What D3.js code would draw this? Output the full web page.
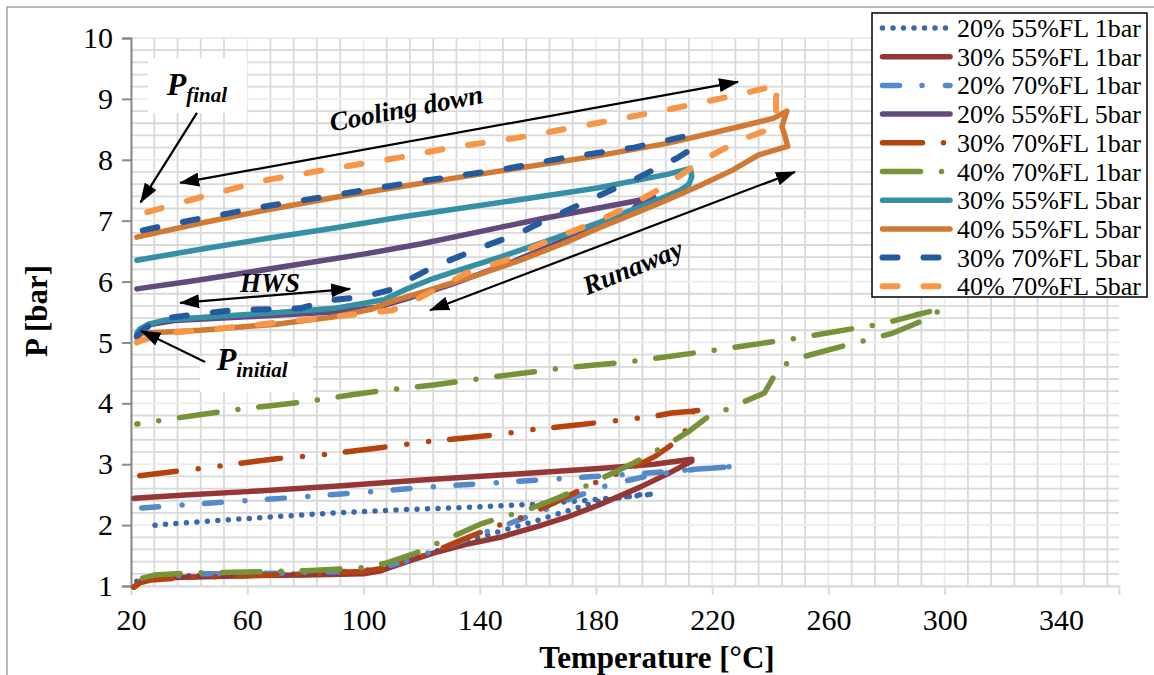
<!DOCTYPE html>
<html><head><meta charset="utf-8">
<script src="https://cdn.jsdelivr.net/npm/d3@7"></script>
<style>
html,body{margin:0;padding:0;background:#fff;}
svg{display:block;}
text{font-family:"Liberation Serif","Times New Roman",serif;}
</style></head>
<body>
<svg id="chart" width="1154" height="675"></svg>
<script>
// ---------- data ----------
const seriesNames = ["20% 55%FL 1bar","30% 55%FL 1bar","20% 70%FL 1bar","20% 55%FL 5bar","30% 70%FL 1bar",
  "40% 70%FL 1bar","30% 55%FL 5bar","40% 55%FL 5bar","30% 70%FL 5bar","40% 70%FL 5bar"];

const s20_55_1 = [[22,1.08],[26,1.14],[40,1.17],[60,1.18],[80,1.2],[100,1.24],[106,1.28],[120,1.5],[140,1.8],[160,2.08],[180,2.38],[195,2.5],[200,2.51],
  [180,2.42],[158,2.34],[135,2.29],[112,2.25],[90,2.2],[67,2.13],[45,2.06],[33,2.02],[27,1.99]];
const s30_55_1 = [[21,0.98],[23,1.06],[26,1.11],[35,1.14],[60,1.17],[80,1.18],[100,1.2],[106,1.25],[115,1.4],[124,1.54],[135,1.68],[147,1.8],[160,1.98],[170,2.13],[181,2.33],[195,2.62],[205,2.85],[213,3.05],
  [213,3.08],[200,3.0],[181,2.93],[150,2.83],[120,2.74],[90,2.64],[60,2.55],[40,2.5],[21,2.44]];
const s20_70_1 = [[23,1.08],[30,1.15],[45,1.2],[70,1.21],[95,1.24],[105,1.28],[115,1.42],[124,1.57],[135,1.76],[147,1.97],[160,2.2],[172,2.45],[185,2.67],[200,2.83],[215,2.92],[229,2.97],
  [210,2.9],[190,2.83],[170,2.77],[150,2.71],[124,2.63],[100,2.54],[78,2.46],[50,2.37],[35,2.32],[23,2.28]];
const s20_55_5 = [[22,5.1],[23,5.2],[27,5.3],[35,5.36],[60,5.42],[90,5.5],[105,5.58],[115,5.72],[130,5.95],[150,6.3],[170,6.7],[185,7.0],[192,7.15],[195,7.3],[200,7.38],
  [180,7.2],[160,7.02],[140,6.82],[120,6.62],[100,6.45],[80,6.3],[60,6.15],[40,6.0],[22,5.88]];
const s30_70_1 = [[21,0.98],[23,1.05],[27,1.1],[40,1.14],[60,1.17],[80,1.2],[100,1.24],[108,1.3],[118,1.45],[128,1.64],[136,1.8],[145,1.97],[153,2.1],[165,2.35],[179,2.68],[186,2.82],[193,2.95],[200,3.12],[205.5,3.3],[210.5,3.5],[211.5,3.7],[212.5,3.84],[215,3.89],[218,3.9],
  [213,3.87],[206,3.84],[199,3.78],[182,3.69],[167,3.61],[160,3.58],[145,3.48],[122,3.37],[107,3.28],[85,3.15],[70,3.09],[47,2.95],[23,2.81]];
const s40_70_1 = [[24,1.13],[28,1.18],[38,1.21],[60,1.23],[80,1.25],[100,1.3],[108,1.38],[118,1.54],[130,1.8],[141,2.03],[150,2.16],[158,2.28],[167,2.45],[175.5,2.62],[186,2.86],[193,3.02],[200,3.2],[205.5,3.35],[211.7,3.53],[218,3.76],[224,3.88],[230.6,4.02],[238,4.17],[240.5,4.38],[243,4.6],[251,4.76],[265,4.94],[282,5.15],[292,5.35],[299.5,5.56],
  [290,5.45],[279,5.31],[270,5.24],[249,5.07],[219,4.86],[191,4.68],[169,4.58],[147,4.45],[124,4.3],[110,4.23],[96,4.14],[82,4.04],[68,3.96],[55,3.89],[43,3.81],[22,3.66]];
const s30_55_5 = [[22,5.15],[23,5.22],[26,5.3],[32,5.37],[50,5.43],[67,5.48],[90,5.56],[107,5.7],[115,5.88],[124,6.05],[135,6.22],[147,6.4],[164,6.68],[181,6.97],[198.6,7.29],[209,7.5],[212,7.6],[213,7.72],[212.5,7.86],
  [204.5,7.76],[181,7.54],[153,7.34],[130,7.18],[113,7.06],[90,6.88],[67,6.71],[45,6.54],[22,6.35]];
const s40_55_5 = [[22,5.08],[24,5.15],[44,5.2],[70,5.3],[90,5.42],[103,5.55],[110,5.68],[124,5.88],[140,6.12],[154,6.35],[170,6.65],[181,6.88],[195,7.15],[204.5,7.34],[216,7.58],[227,7.83],[236,8.08],[243,8.18],[246,8.22],[245,8.4],[244,8.55],[245.7,8.8],[241,8.68],
  [230,8.55],[204.5,8.27],[180,8.06],[153,7.86],[130,7.69],[113,7.56],[90,7.38],[67,7.18],[45,6.97],[22,6.73]];
const s30_70_5 = [[22,5.1],[24,5.2],[27,5.3],[32,5.4],[55,5.53],[78,5.56],[89.5,5.7],[100,5.75],[109,5.86],[124,6.24],[140,6.55],[154,6.8],[158,6.9],[175.5,7.29],[193,7.67],[208,8.03],[212,8.15],[213,8.35],[212,8.4],
  [193,8.2],[170,8.04],[150,7.86],[113,7.6],[90,7.42],[67,7.24],[40,7.0],[22,6.82]];
const s40_70_5 = [[22,5.0],[24,5.04],[32,5.15],[55,5.25],[89.5,5.42],[110,5.53],[118,5.7],[135.6,6.14],[149,6.35],[154,6.47],[164,6.68],[179,6.96],[190.7,7.22],[203,7.55],[217,8.0],[229.5,8.32],[239,8.49],[242,8.77],[242,9.03],[243,9.23],
  [230,9.08],[204.5,8.82],[180,8.6],[152.8,8.36],[130,8.2],[112.6,8.04],[90,7.86],[66.8,7.67],[45,7.4],[24,7.12]];

const seriesData = [s20_55_1,s30_55_1,s20_70_1,s20_55_5,s30_70_1,s40_70_1,s30_55_5,s40_55_5,s30_70_5,s40_70_5];

const xTickLabels = [20,60,100,140,180,220,260,300,340];
const yTickLabels = [1,2,3,4,5,6,7,8,9,10];

// ---------- styles ----------
const styles = [
  {color:"#3A68A8", w:5.5, dash:"0 10.5"},
  {color:"#953735", w:5.5, dash:null},
  {color:"#538AC9", w:5.5, dash:"17 22.5 0 23.5"},
  {color:"#634A7E", w:5.5, dash:null},
  {color:"#B6420F", w:5.5, dash:"40 21 0 22 0 22"},
  {color:"#779339", w:5.5, dash:"38 21 0 21"},
  {color:"#3690A5", w:5.5, dash:null},
  {color:"#D07A35", w:5.5, dash:null},
  {color:"#265A9E", w:6, dash:"15 26"},
  {color:"#F79646", w:6, dash:"15 26"}
];

const svg = d3.select("#chart");
const x = d3.scaleLinear().domain([20,360]).range([131,1119]);
const y = d3.scaleLinear().domain([1,10]).range([586,38]);

// outer frame
svg.append("rect").attr("x",7).attr("y",7).attr("width",1170).attr("height",700)
  .attr("fill","none").attr("stroke","#8c8c8c").attr("stroke-width",1.2);

// gridlines
const g = svg.append("g");
d3.range(20,361,8).forEach(v=>{
  const major = (v-20)%40===0;
  g.append("line").attr("x1",x(v)).attr("x2",x(v)).attr("y1",y(10)).attr("y2",y(1))
   .attr("stroke",major?"#ececec":"#d9d9d9").attr("stroke-width",1.8);
});
d3.range(0,46).map(i=>1+i*0.2).forEach(v=>{
  const major = Math.abs(v-Math.round(v))<1e-6;
  g.append("line").attr("x1",x(20)).attr("x2",x(360)).attr("y1",y(v)).attr("y2",y(v))
   .attr("stroke",major?"#ececec":"#d9d9d9").attr("stroke-width",1.8);
});

// axes
const xAxis = d3.axisBottom(x).tickValues(xTickLabels).tickSize(9).tickFormat(d3.format("d"));
const xg = svg.append("g").attr("transform",`translate(0,${y(1)})`).call(xAxis);
xg.select(".domain").attr("stroke","#d9d9d9").attr("stroke-width",1.8);
xg.selectAll(".tick line").attr("stroke","#d9d9d9").attr("stroke-width",1.8);
xg.selectAll(".tick text").attr("font-family","Liberation Serif").attr("font-size",30).attr("fill","#000").attr("dy","1.05em");

const yAxis = d3.axisLeft(y).tickValues(yTickLabels).tickSize(9).tickFormat(d3.format("d"));
const yg = svg.append("g").attr("transform",`translate(${x(20)},0)`).call(yAxis);
yg.select(".domain").attr("stroke","#898989").attr("stroke-width",2);
yg.selectAll(".tick line").attr("stroke","#898989").attr("stroke-width",2);
yg.selectAll(".tick text").attr("font-family","Liberation Serif").attr("font-size",30).attr("fill","#000").attr("x",-18);

// axis titles
svg.append("text").attr("x",657).attr("y",668).attr("text-anchor","middle")
  .attr("font-size",31).attr("font-weight","bold").text("Temperature [°C]");
svg.append("text").attr("transform","translate(47,311) rotate(-90)").attr("text-anchor","middle")
  .attr("font-size",31).attr("font-weight","bold").text("P [bar]");

// white label boxes
svg.append("rect").attr("x",148).attr("y",58).attr("width",99).attr("height",55).attr("fill","#fff");
svg.append("rect").attr("x",200).attr("y",357).attr("width",113).attr("height",35).attr("fill","#fff");

// series
const line = d3.line().x(d=>x(d[0])).y(d=>y(d[1]));
const sg = svg.append("g");
seriesData.forEach((data,i)=>{
  const st = styles[i];
  sg.append("path").attr("d",line(data)).attr("fill","none").attr("stroke",st.color)
    .attr("stroke-width",st.w).attr("stroke-linecap","round").attr("stroke-linejoin","round")
    .attr("stroke-dasharray",st.dash);
});

// annotations (in data units)
const defs = svg.append("defs");
defs.append("marker").attr("id","ah").attr("viewBox","0 0 20 14").attr("refX",19).attr("refY",7)
  .attr("markerWidth",20).attr("markerHeight",14).attr("markerUnits","userSpaceOnUse").attr("orient","auto-start-reverse")
  .append("path").attr("d","M0,0 L20,7 L0,14 Z").attr("fill","#000");

const arrows = [
  {from:[36.9,7.62], to:[228.9,9.28], both:true},
  {from:[122.9,5.53], to:[248.5,7.8], both:true},
  {from:[36.9,5.65], to:[95.4,5.88], both:true},
  {from:[42.7,8.77], to:[23.3,7.3], both:false},
  {from:[45.5,4.68], to:[23.5,5.19], both:false}
];
const ag = svg.append("g");
arrows.forEach(a=>{
  const l = ag.append("line").attr("x1",x(a.from[0])).attr("y1",y(a.from[1]))
    .attr("x2",x(a.to[0])).attr("y2",y(a.to[1])).attr("stroke","#000").attr("stroke-width",2.2)
    .attr("marker-end","url(#ah)");
  if(a.both) l.attr("marker-start","url(#ah)");
});

function label(t,p,rot,txt,size){
  svg.append("text").attr("transform",`translate(${x(t)},${y(p)}) rotate(${rot})`)
    .attr("text-anchor","middle").attr("font-size",size).attr("font-weight","bold").attr("font-style","italic")
    .text(txt);
}
label(115.3,8.7,-10.7,"Cooling down",27);
label(193.8,6.1,-22,"Runaway",27);
label(67.8,5.83,0,"HWS",27);

const pf = svg.append("text").attr("x",x(32.3)).attr("y",y(9.06)).attr("font-weight","bold").attr("font-style","italic");
pf.append("tspan").attr("font-size",32).text("P");
pf.append("tspan").attr("font-size",21).attr("dy",7).text("final");
const pi = svg.append("text").attr("x",x(49.5)).attr("y",y(4.55)).attr("font-weight","bold").attr("font-style","italic");
pi.append("tspan").attr("font-size",32).text("P");
pi.append("tspan").attr("font-size",21).attr("dy",7).text("initial");

// legend
const lg = svg.append("g");
lg.append("rect").attr("x",872).attr("y",13).attr("width",275).attr("height",284)
  .attr("fill","#fff").attr("stroke","#000").attr("stroke-width",1.5);
seriesNames.forEach((n,i)=>{
  const yy = 28 + i*28.7;
  const st = styles[i];
  lg.append("line").attr("x1",882.5).attr("x2",950).attr("y1",yy).attr("y2",yy)
    .attr("stroke",st.color).attr("stroke-width",st.w).attr("stroke-linecap","round").attr("stroke-dasharray",st.dash);
  lg.append("text").attr("x",957).attr("y",yy+9).attr("font-size",26).text(n);
});
</script>
</body></html>
